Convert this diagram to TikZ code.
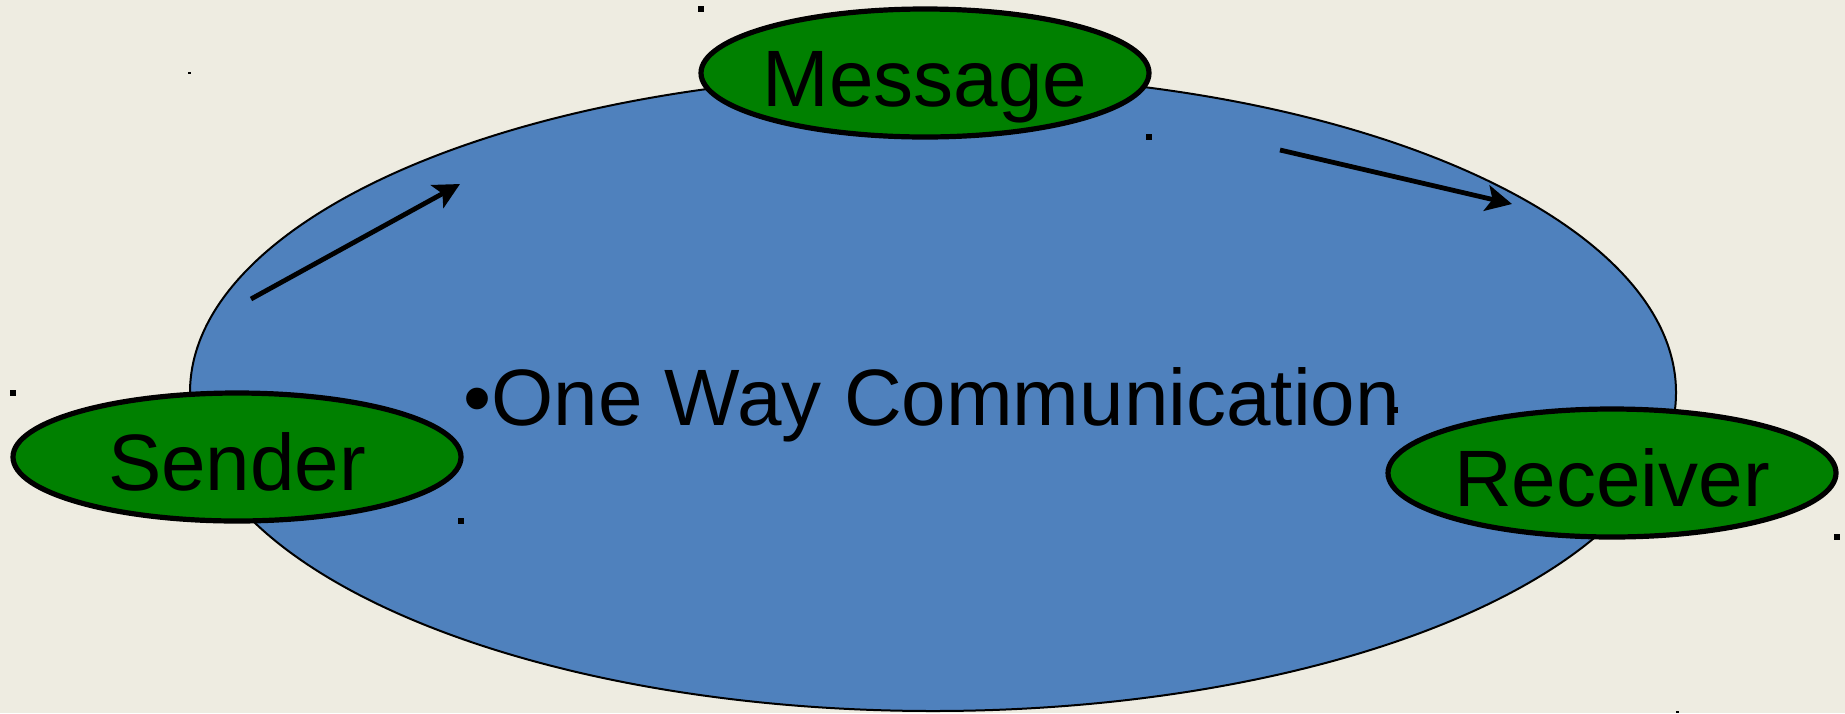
\documentclass[tikz,border=0pt]{standalone}
\usepackage{fontspec}
\setmainfont{Liberation Sans}
\usetikzlibrary{shapes.geometric,arrows.meta}
\definecolor{bgc}{HTML}{EEECE1}
\definecolor{blu}{HTML}{4F81BD}
\definecolor{grn}{HTML}{008000}
\tikzset{
  bubble/.style={ellipse, draw=black, line width=2.6pt, fill=grn,
    minimum width=224pt, minimum height=64pt, inner xsep=-40pt, inner ysep=0pt,
    text height=33pt, text depth=0pt, font=\fontsize{40pt}{48pt}\selectfont},
  flow/.style={line width=2.4pt, -{Stealth[length=13pt, width=13pt, inset=3pt]}},
  speck/.style={fill=black, draw=none, minimum size=2.8pt, inner sep=0pt, outer sep=0pt},
  tinyspeck/.style={fill=black, draw=none, minimum width=1.5pt, minimum height=1pt, inner sep=0pt, outer sep=0pt},
  bigtext/.style={anchor=base west, inner sep=0pt, font=\fontsize{40pt}{48pt}\selectfont}
}
\begin{document}
\begin{tikzpicture}[x=0.5pt, y=-0.5pt]
\fill[bgc] (0,0) rectangle (1845,713);
\useasboundingbox (0,0) rectangle (1845,713);
% large oval
\draw[fill=blu, draw=black, line width=1pt] (933,392.5) ellipse [x radius=743, y radius=318.5];
% arrows
\coordinate (a1s) at (251,299);
\coordinate (a1e) at (460,184);
\coordinate (a2s) at (1280,150);
\coordinate (a2e) at (1512,204);
\draw[flow] (a1s) -- (a1e);
\draw[flow] (a2s) -- (a2e);
% central text
\node[bigtext] (title) at (463,425) {•One Way Communication};
% bubbles
\node[bubble] (msg) at (925,73) {Message};
\node[bubble] (snd) at (237,457) {Sender};
\node[bubble] (rcv) at (1612,473) {Receiver};
% specks
\node[tinyspeck] (s1) at (189,73) {};
\node[tinyspeck] (s2) at (1677,712) {};
\node[speck] (s3) at (701,9) {};
\node[speck] (s4) at (1149,137) {};
\node[speck] (s5) at (13,393) {};
\node[speck] (s6) at (461,521) {};
\node[speck] (s7) at (1837,537) {};
\node[speck] (s8) at (1395,410) {};
\end{tikzpicture}
\end{document}
